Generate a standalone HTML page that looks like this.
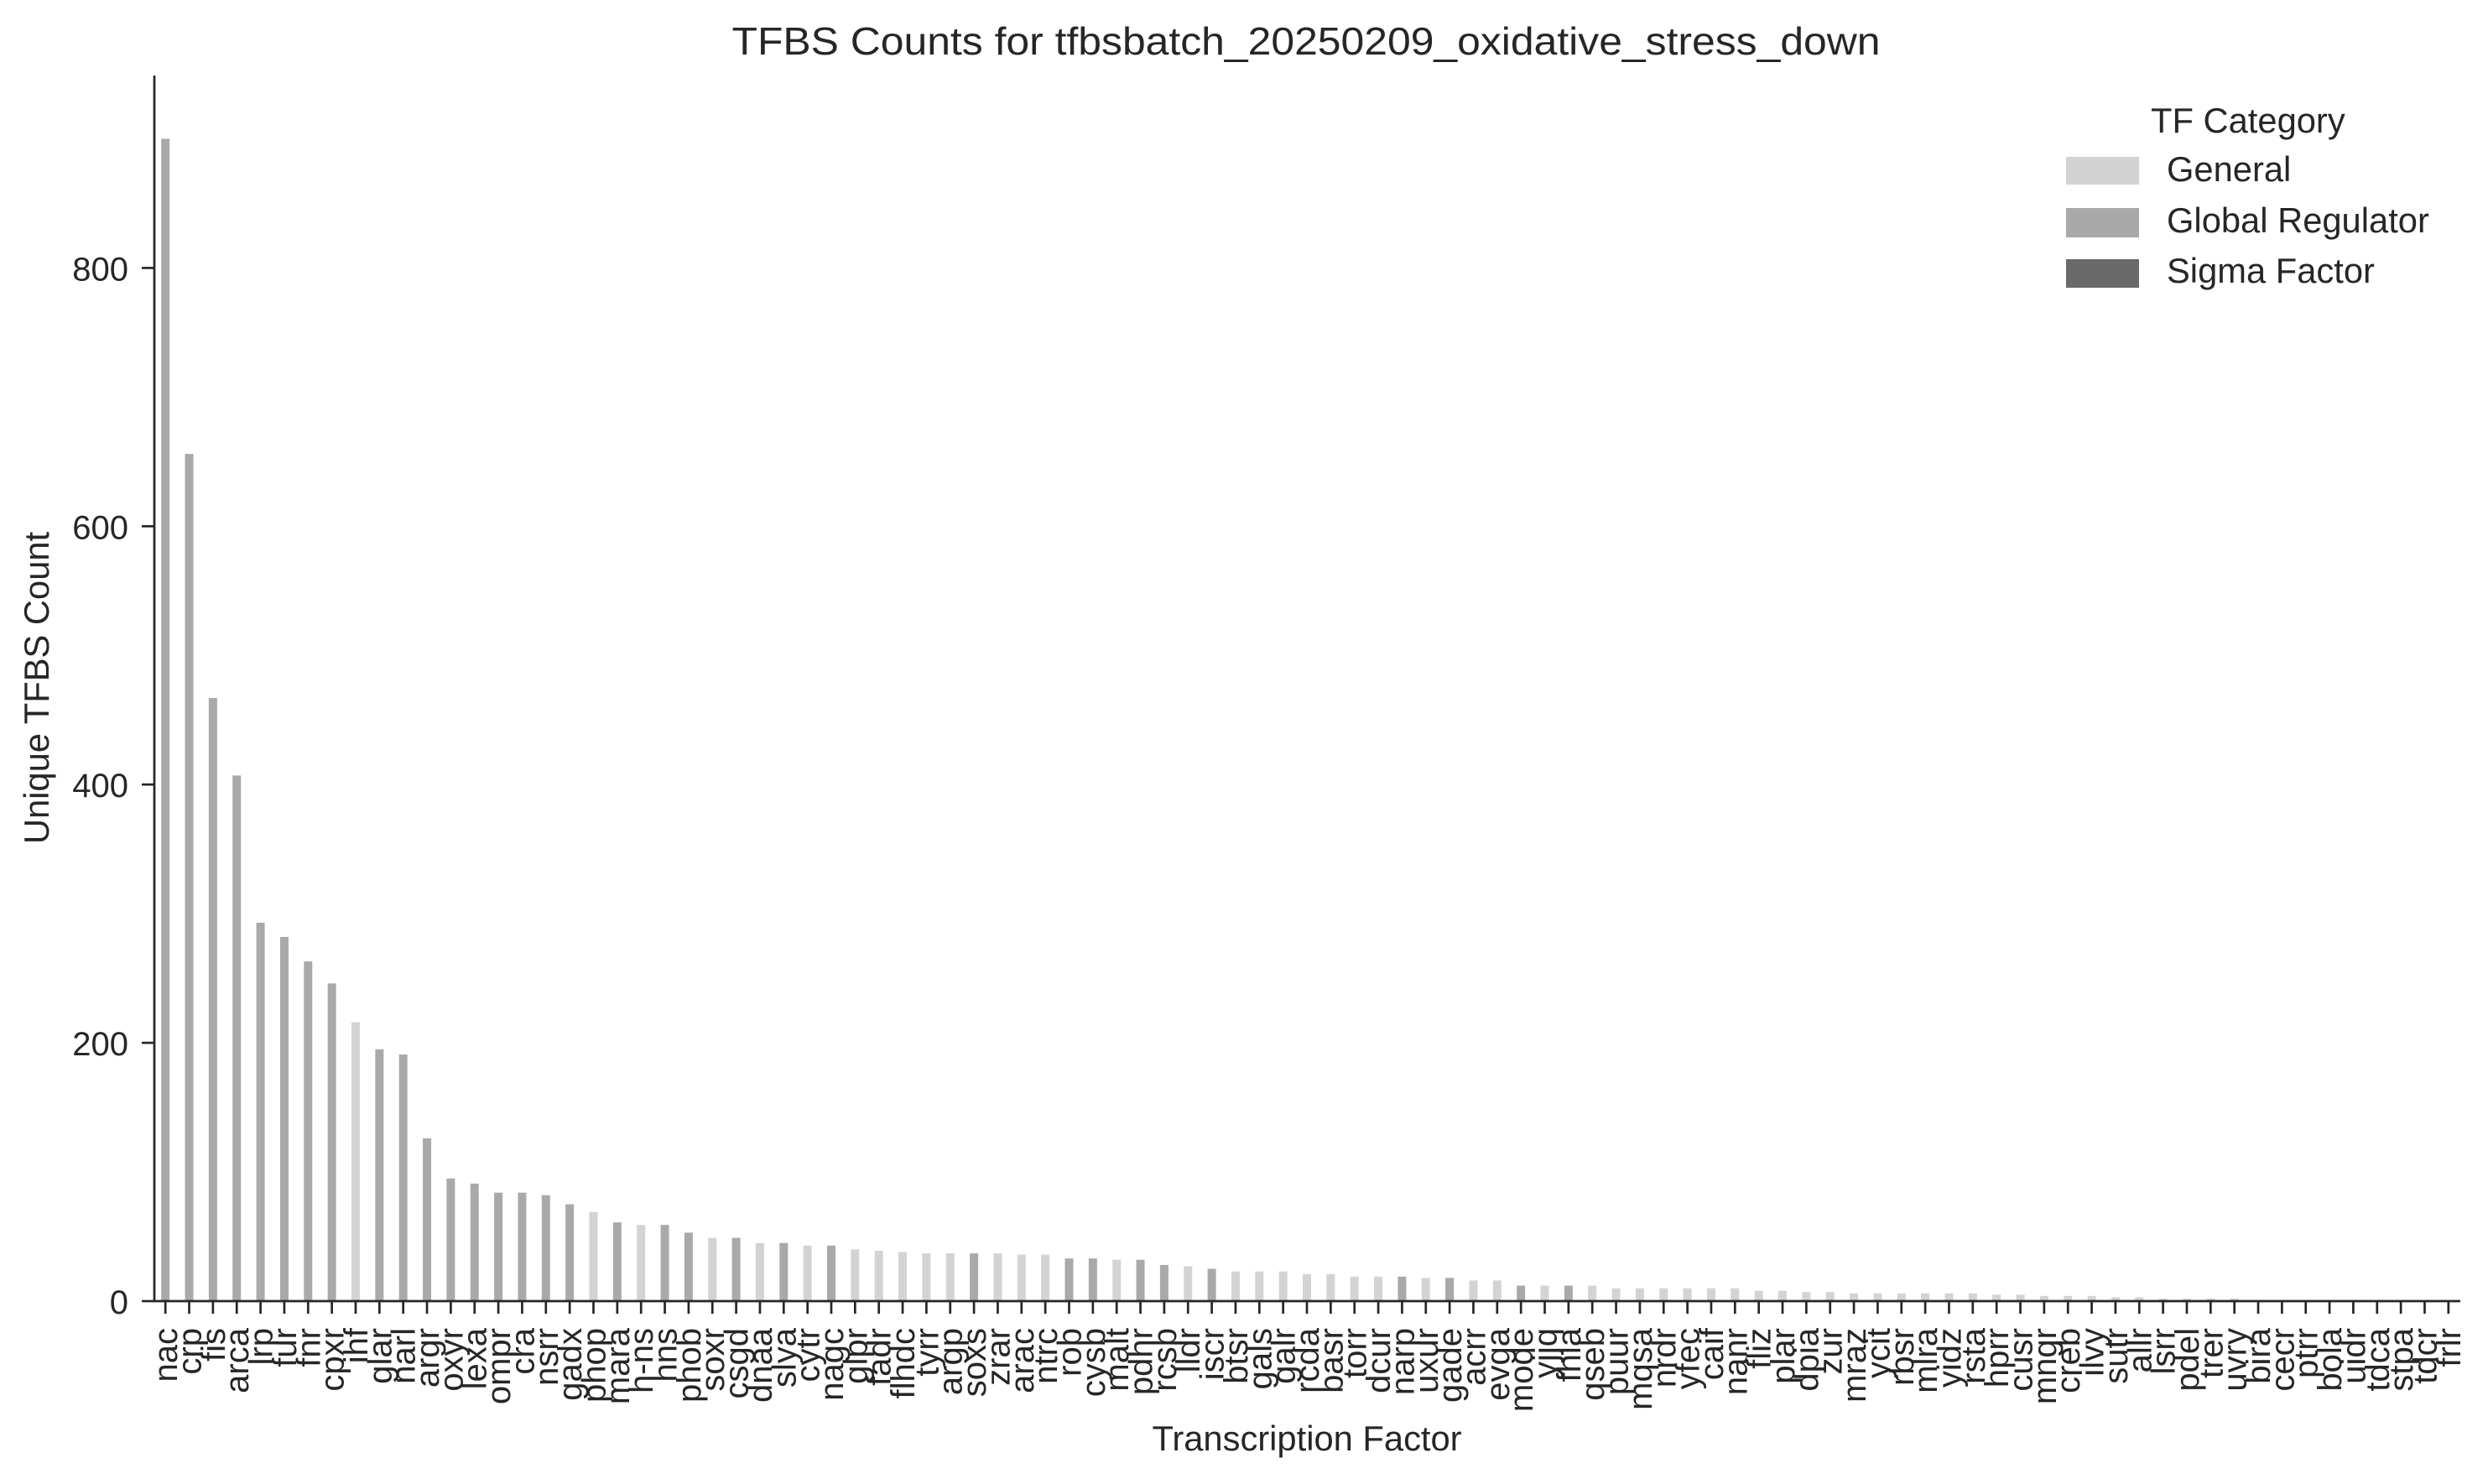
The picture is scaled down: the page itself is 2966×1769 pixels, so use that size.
<!DOCTYPE html>
<html><head><meta charset="utf-8"><style>
html,body{margin:0;padding:0;background:#fff;}
svg{display:block;font-family:"Liberation Sans",Arial,sans-serif;}
</style></head><body>
<svg id="chart" width="2966" height="1769" viewBox="0 0 2966 1769" xmlns="http://www.w3.org/2000/svg">
<rect width="2966" height="1769" fill="#fff"/>
<text x="1557" y="65" font-size="46" text-anchor="middle" fill="#262626" textLength="1369" lengthAdjust="spacingAndGlyphs">TFBS Counts for tfbsbatch_20250209_oxidative_stress_down</text>
<g id="bars"></g>
<g id="xticks"></g>
<g id="yticks"></g>
<line x1="184" y1="90" x2="184" y2="1552" stroke="#262626" stroke-width="2.7"/>
<line x1="183" y1="1551" x2="2933" y2="1551" stroke="#262626" stroke-width="2.7"/>
<text transform="translate(58,820) rotate(-90)" font-size="41.7" text-anchor="middle" fill="#262626">Unique TFBS Count</text>
<text x="1558" y="1729" font-size="41.7" text-anchor="middle" fill="#262626">Transcription Factor</text>
<g>
<text x="2564" y="158" font-size="41.7" fill="#262626">TF Category</text>
<rect x="2463" y="187" width="87" height="33" fill="#d3d3d3"/>
<text x="2583" y="216" font-size="41.7" fill="#262626">General</text>
<rect x="2463" y="248" width="87" height="35" fill="#a9a9a9"/>
<text x="2583" y="277" font-size="41.7" fill="#262626">Global Regulator</text>
<rect x="2463" y="309" width="87" height="34" fill="#696969"/>
<text x="2583" y="337" font-size="41.7" fill="#262626">Sigma Factor</text>
</g>
</svg>
<script>
const categories = ["nac","crp","fis","arca","lrp","fur","fnr","cpxr","ihf","glar","narl","argr","oxyr","lexa","ompr","cra","nsrr","gadx","phop","mara","h-ns","hns","phob","soxr","csgd","dnaa","slya","cytr","nagc","glpr","fadr","flhdc","tyrr","argp","soxs","zrar","arac","ntrc","rob","cysb","malt","pdhr","rcsb","lldr","iscr","btsr","gals","galr","rcda","basr","torr","dcur","narp","uxur","gade","acrr","evga","mode","yjjq","fhla","qseb","puur","mqsa","nrdr","yfec","caif","nanr","fliz","plar","dpia","zur","mraz","ycit","rbsr","mlra","yidz","rsta","hprr","cusr","mngr","creb","ilvy","sutr","allr","lsrr","pdel","trer","uvry","bira","cecr","ptrr","bola","uidr","tdca","stpa","tdcr","frlr"];
const counts = [900,656,467,407,293,282,263,246,216,195,191,126,95,91,84,84,82,75,69,61,59,59,53,49,49,45,45,43,43,40,39,38,37,37,37,37,36,36,33,33,32,32,28,27,25,23,23,23,21,21,19,19,19,18,18,16,16,12,12,12,12,10,10,10,10,10,10,8,8,7,7,6,6,6,6,6,6,5,5,4,4,4,3,3,2,2,2,2,0,0,0,0,0,0,0,0,0];
const catType = "GGGGGGGGLGGGGGGGGGLGLGGLGLGLGLLLLLGLLLGGLGGLGLLLLLLLGLGLLGLGLLLLLLLLLLLLLLLLLLLLLLLLLLLLLLLLLLL";
const yTicks = [0,200,400,600,800];
const colors = {L:"#d3d3d3", G:"#a9a9a9", S:"#696969"};
const NS = "http://www.w3.org/2000/svg";
const X0 = 183, X1 = 2933, Y0 = 1551, PX_PER = 1.5395;
function xScale(i){ return X0 + (i + 0.5) * (X1 - X0) / categories.length; }
function yScale(v){ return Y0 - v * PX_PER; }
const bars = document.getElementById('bars');
const xt = document.getElementById('xticks');
const yt = document.getElementById('yticks');
categories.forEach((c,i)=>{
  const cx = xScale(i);
  const h = Y0 - yScale(counts[i]);
  if (h > 0) {
    const r = document.createElementNS(NS,'rect');
    r.setAttribute('x', cx - 5); r.setAttribute('width', 10);
    r.setAttribute('y', yScale(counts[i])); r.setAttribute('height', h);
    r.setAttribute('fill', colors[catType[i]] || "#d3d3d3");
    
    
    bars.appendChild(r);
  }
  const t = document.createElementNS(NS,'line');
  t.setAttribute('x1', cx); t.setAttribute('x2', cx);
  t.setAttribute('y1', Y0); t.setAttribute('y2', Y0 + 15);
  t.setAttribute('stroke', '#262626'); t.setAttribute('stroke-width', '2.7');
  
  
  xt.appendChild(t);
  const lb = document.createElementNS(NS,'text');
  lb.setAttribute('transform', 'translate(' + (cx + 14) + ',1583) rotate(-90)');
  lb.setAttribute('text-anchor', 'end');
  lb.setAttribute('font-size', '40');
  lb.setAttribute('fill', '#262626');
  lb.textContent = c;
  
  
  xt.appendChild(lb);
});
yTicks.forEach(v=>{
  const y = yScale(v);
  const t = document.createElementNS(NS,'line');
  t.setAttribute('x1', 169); t.setAttribute('x2', 184);
  t.setAttribute('y1', y); t.setAttribute('y2', y);
  t.setAttribute('stroke', '#262626'); t.setAttribute('stroke-width', '2.7');
  
  
  yt.appendChild(t);
  const lb = document.createElementNS(NS,'text');
  lb.setAttribute('x', 153); lb.setAttribute('y', y + 15);
  lb.setAttribute('text-anchor', 'end');
  lb.setAttribute('font-size', '40');
  lb.setAttribute('fill', '#262626');
  lb.textContent = v;
  
  
  yt.appendChild(lb);
});
</script>
</body></html>
